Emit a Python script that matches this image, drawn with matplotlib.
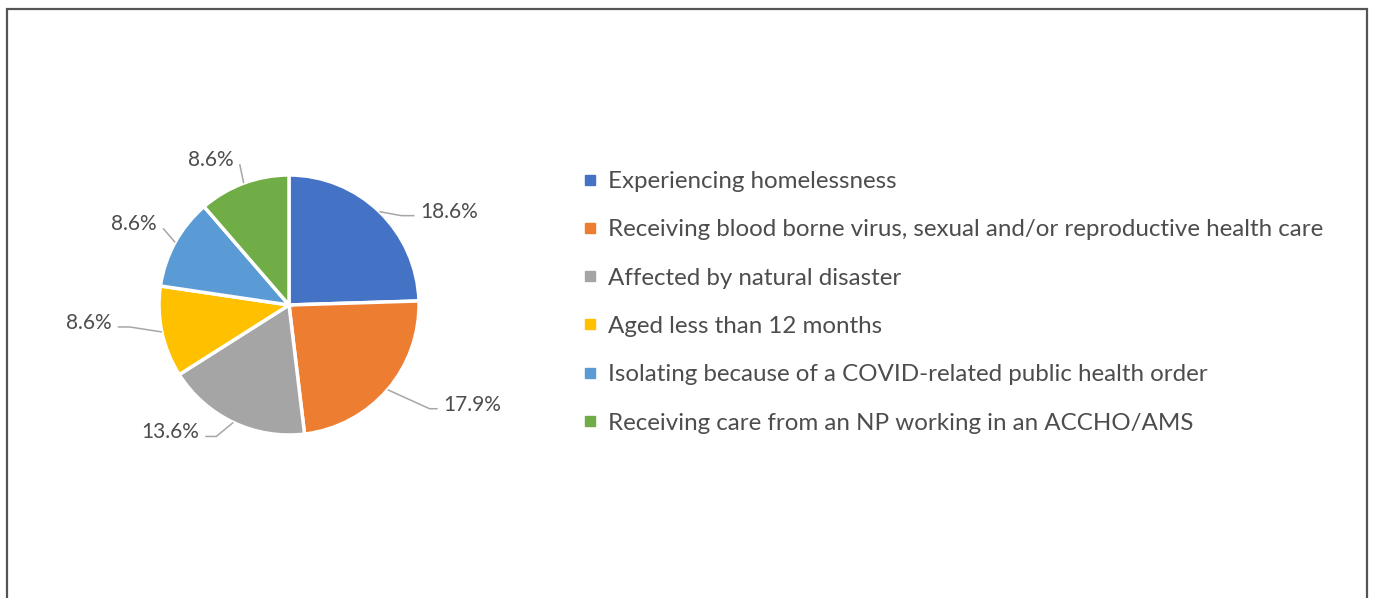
import matplotlib.pyplot as plt
from matplotlib.lines import Line2D
from matplotlib.patches import Rectangle
import numpy as np

categories = [
    "Experiencing homelessness",
    "Receiving blood borne virus, sexual and/or reproductive health care",
    "Affected by natural disaster",
    "Aged less than 12 months",
    "Isolating because of a COVID-related public health order",
    "Receiving care from an NP working in an ACCHO/AMS",
]
percentages = [18.6, 17.9, 13.6, 8.6, 8.6, 8.6]
colors = ["#4472C4", "#ED7D31", "#A5A5A5", "#FFC000", "#5B9BD5", "#70AD47"]

W, H = 1375, 598
plt.rcParams['font.family'] = ['Lato', 'DejaVu Sans']
text_color = "#4d4d4d"

fig = plt.figure(figsize=(W / 100, H / 100), dpi=100)
ax = fig.add_axes([0, 0, 1, 1])

cx, cy, r = 289, H - 305, 130
wedges, _ = ax.pie(percentages, colors=colors, startangle=90, counterclock=False,
                   center=(cx, cy), radius=r, frame=True,
                   wedgeprops=dict(edgecolor="white", linewidth=2.5))
ax.set_xlim(0, W)
ax.set_ylim(0, H)
ax.set_aspect("equal")
ax.axis("off")

# leader lines: (dx, dy) from the wedge edge to the elbow, then a short tail
# (pixels, dy positive = up)
leaders = [(22, -4, 13), (42, -19, 8), (-17, -14, -11),
           (-32, 5, -12), (-12, 14, 0), (-4, 19, 0)]
for w, val, (dx, dy, tail) in zip(wedges, percentages, leaders):
    mid = np.deg2rad((w.theta1 + w.theta2) / 2)
    x0, y0 = cx + r * np.cos(mid), cy + r * np.sin(mid)
    x1, y1 = x0 + dx, y0 + dy
    x2 = x1 + tail
    ax.plot([x0, x1, x2], [y0, y1, y1], color="#a6a6a6", lw=1.1,
            solid_capstyle="butt", zorder=1)
    side = 1 if x1 > cx else -1
    ax.text(x2 + side * 6, y1 + 6, f"{val}%", fontsize=15, color=text_color,
            ha="left" if side > 0 else "right", va="center_baseline")

handles = [Line2D([], [], marker="s", linestyle="none", markersize=7,
                  markerfacecolor=c, markeredgecolor=c) for c in colors]
ax.legend(handles, categories, loc="upper left",
          bbox_to_anchor=(581 / W, 1 - 171 / H), bbox_transform=fig.transFigure,
          frameon=False, fontsize=17.4, labelcolor=text_color,
          labelspacing=1.13, handlelength=0.75, handletextpad=0.38,
          borderpad=0, borderaxespad=0)

ax.add_patch(Rectangle((7, -20), 1360, H - 9 + 20, fill=False,
                       edgecolor="#555555", lw=1.6, clip_on=False))

fig.savefig("out.png", dpi=100)
